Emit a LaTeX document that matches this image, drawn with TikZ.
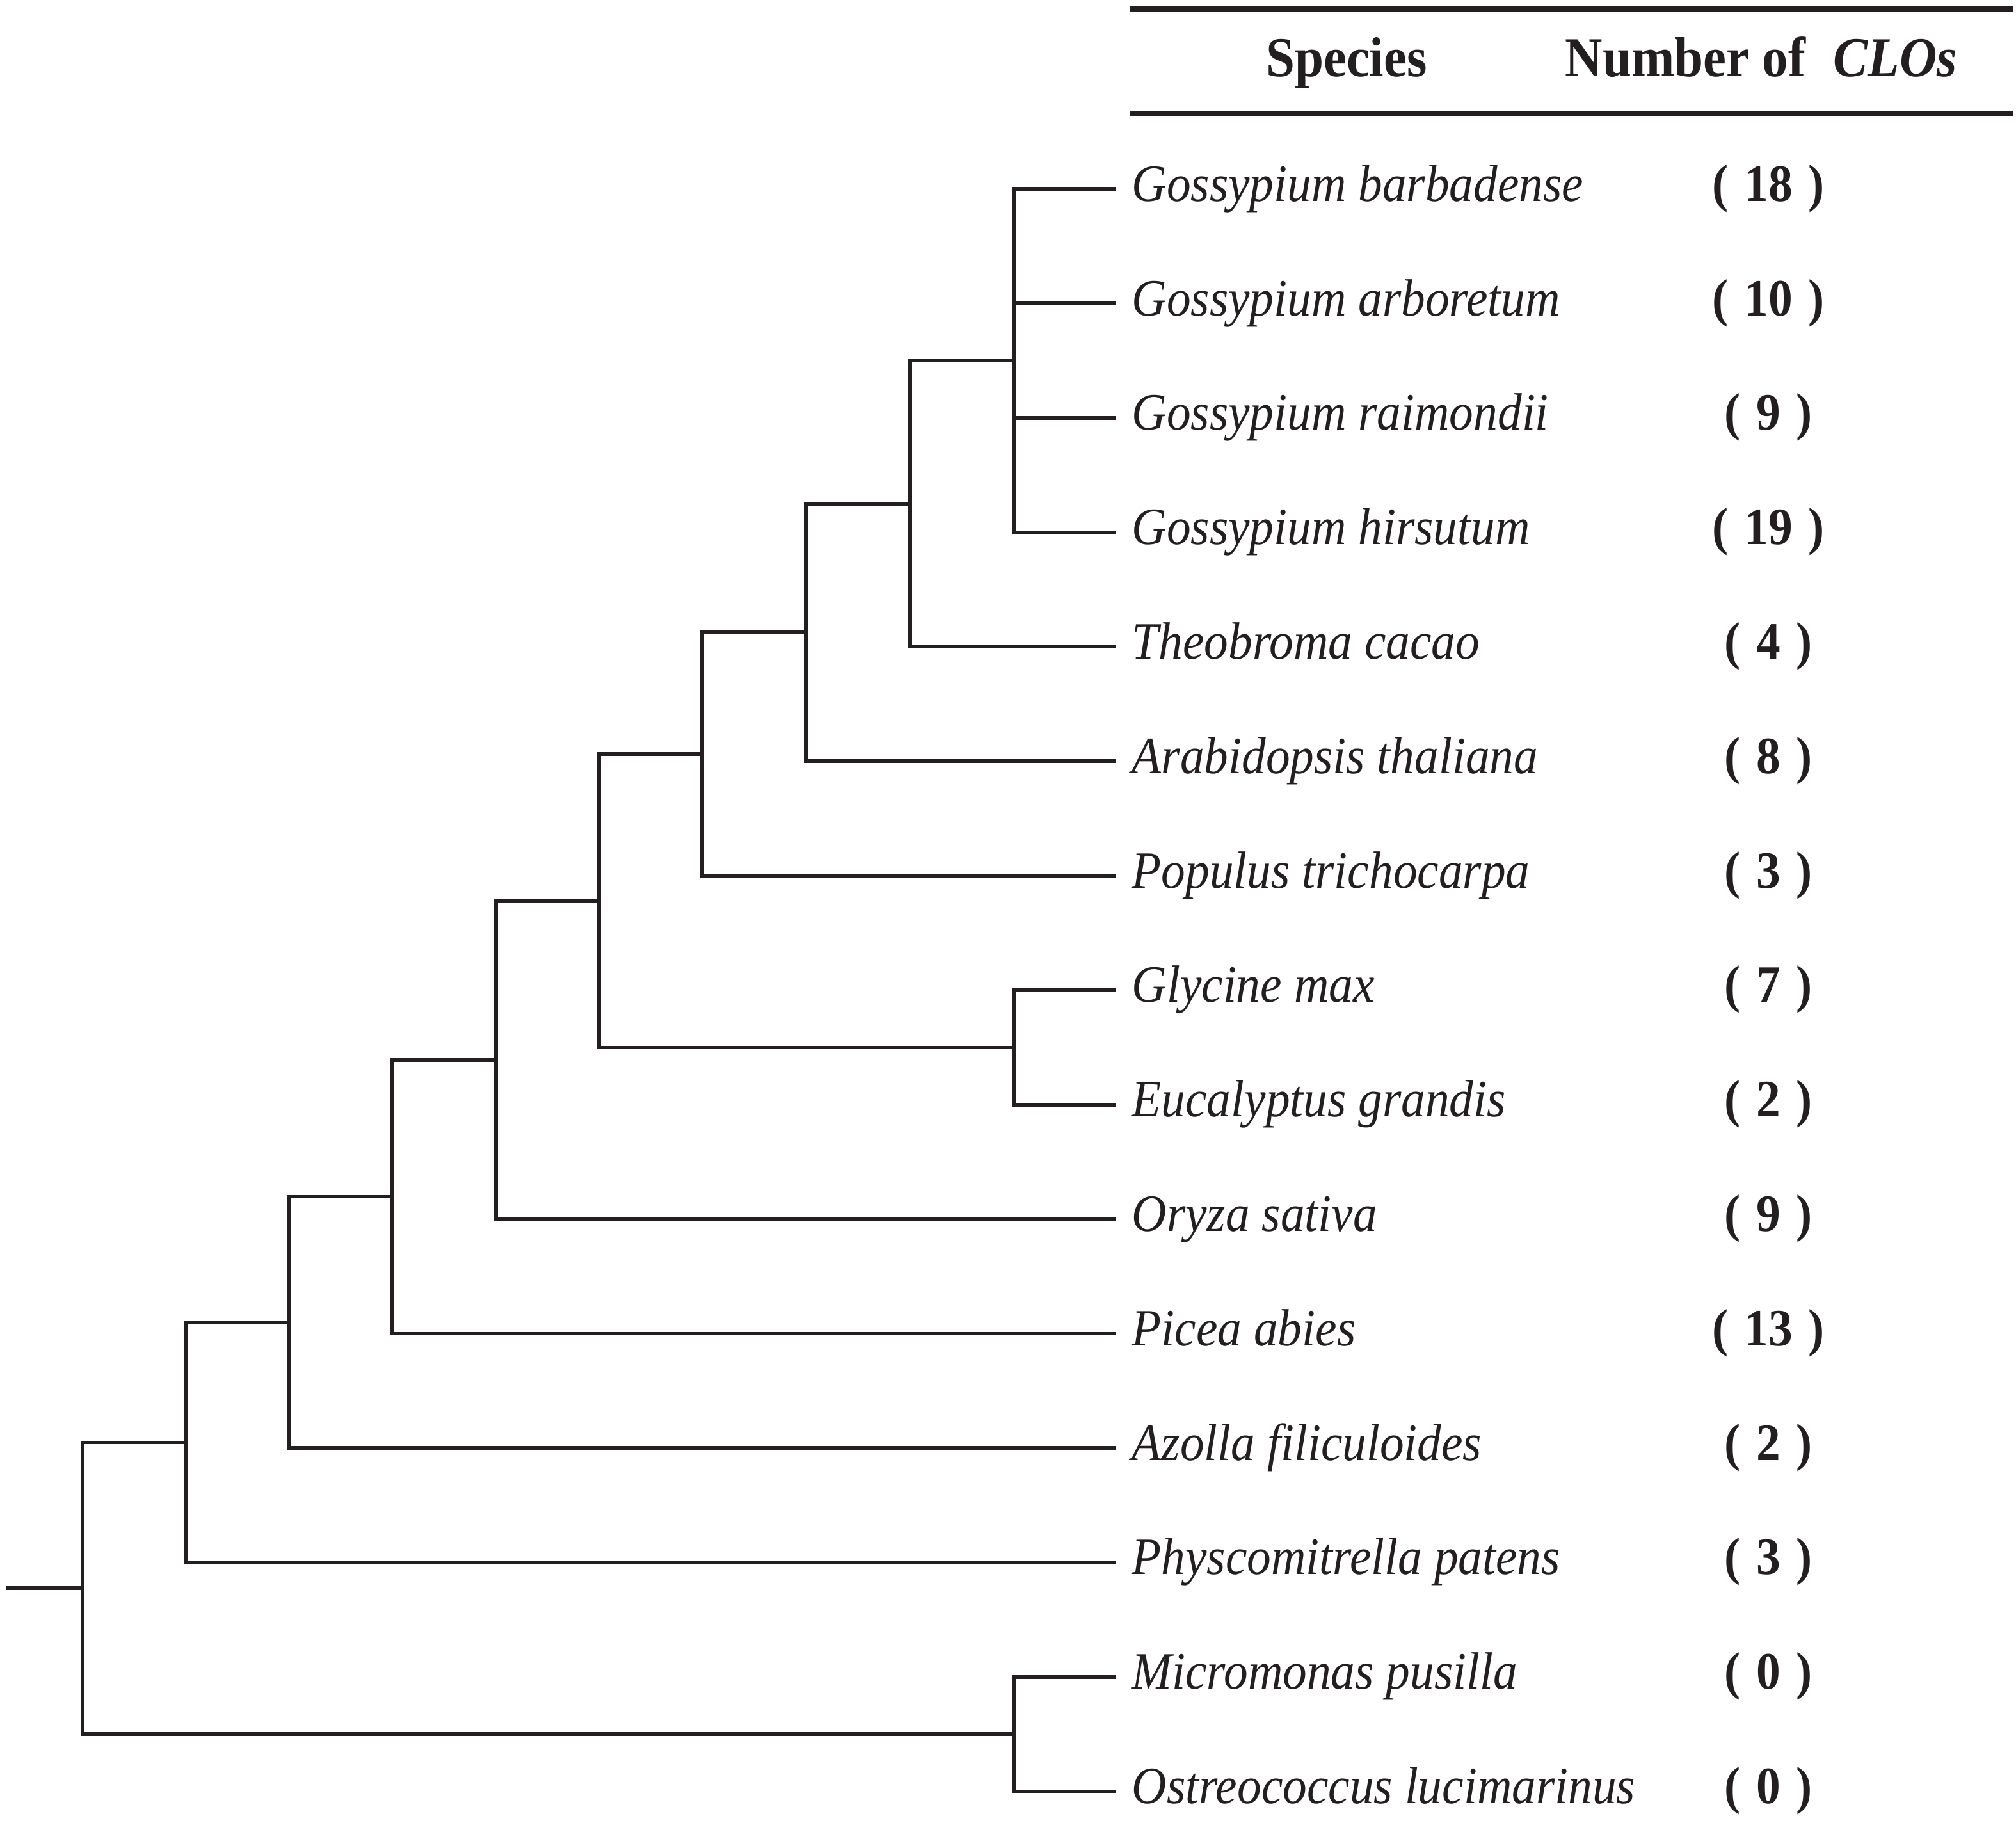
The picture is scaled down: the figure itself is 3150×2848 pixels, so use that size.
\documentclass[tikz,border=0pt]{standalone}
\usepackage{fontspec}
\setmainfont{Liberation Serif}[FakeStretch=0.92]
\definecolor{ink}{RGB}{35,31,32}
\begin{document}
\begin{tikzpicture}[x=0.01cm,y=-0.01cm,
  br/.style={draw=ink,line width=1.6pt,line join=miter},
  rule/.style={draw=ink,line width=2.3pt},
  lab/.style={anchor=base west,inner sep=0pt,text=ink,font=\fontsize{23.3pt}{28pt}\selectfont\itshape},
  num/.style={anchor=base,inner sep=0pt,text=ink,font=\fontsize{23.3pt}{28pt}\selectfont\bfseries},
  head/.style={anchor=base,inner sep=0pt,text=ink,font=\fontsize{25pt}{30pt}\selectfont\bfseries}]
\useasboundingbox (0,0) rectangle (3150,2848);
% header
\coordinate (hl1) at (1765,14);
\coordinate (hr1) at (3145,14);
\coordinate (hl2) at (1765,178);
\coordinate (hr2) at (3145,178);
\draw[rule] (hl1) -- (hr1);
\draw[rule] (hl2) -- (hr2);
\node[head] (hsp) at (2104,119) {Species};
\node[head] (hnum) at (2752,119) {Number of\hspace{0.5em}\itshape CLOs};
% leaves
\foreach \i/\nm/\n in {1/Gossypium barbadense/18, 2/Gossypium arboretum/10, 3/Gossypium raimondii/9,
  4/Gossypium hirsutum/19, 5/Theobroma cacao/4, 6/Arabidopsis thaliana/8, 7/Populus trichocarpa/3,
  8/Glycine max/7, 9/Eucalyptus grandis/2, 10/Oryza sativa/9, 11/Picea abies/13,
  12/Azolla filiculoides/2, 13/Physcomitrella patens/3, 14/Micromonas pusilla/0,
  15/Ostreococcus lucimarinus/0}{
  \pgfmathsetmacro{\yy}{295.3+178.8*(\i-1)}
  \coordinate (t\i) at (1744,\yy);
  \node[lab] (L\i) at (1768,\yy+19) {\nm};
  \node[num] (N\i) at (2763,\yy+19) {(\hspace{0.3em}\n\hspace{0.3em})};
}
% internal nodes
\coordinate (n9) at (1585,563.5);
\coordinate (n8) at (1422,787);
\coordinate (n7) at (1260,988);
\coordinate (n6) at (1097,1178);
\coordinate (gl) at (1585,1636.3);
\coordinate (n5) at (936,1407);
\coordinate (n4) at (775,1656);
\coordinate (n3) at (613,1869.6);
\coordinate (n2) at (452,2066);
\coordinate (n1) at (291,2253.4);
\coordinate (mi) at (1585,2709.1);
\coordinate (n0) at (129,2481);
\coordinate (rt) at (10,2481);
% branches
\draw[br] (t1) -| (n9) |- (t4);
\draw[br] (n9 |- t2) -- (t2);
\draw[br] (n9 |- t3) -- (t3);
\draw[br] (n9) -| (n8) |- (t5);
\draw[br] (n8) -| (n7) |- (t6);
\draw[br] (n7) -| (n6) |- (t7);
\draw[br] (t8) -| (gl) |- (t9);
\draw[br] (n6) -| (n5) |- (gl);
\draw[br] (n5) -| (n4) |- (t10);
\draw[br] (n4) -| (n3) |- (t11);
\draw[br] (n3) -| (n2) |- (t12);
\draw[br] (n2) -| (n1) |- (t13);
\draw[br] (t14) -| (mi) |- (t15);
\draw[br] (n1) -| (n0) |- (mi);
\draw[br] (rt) -- (n0);
\end{tikzpicture}
\end{document}
